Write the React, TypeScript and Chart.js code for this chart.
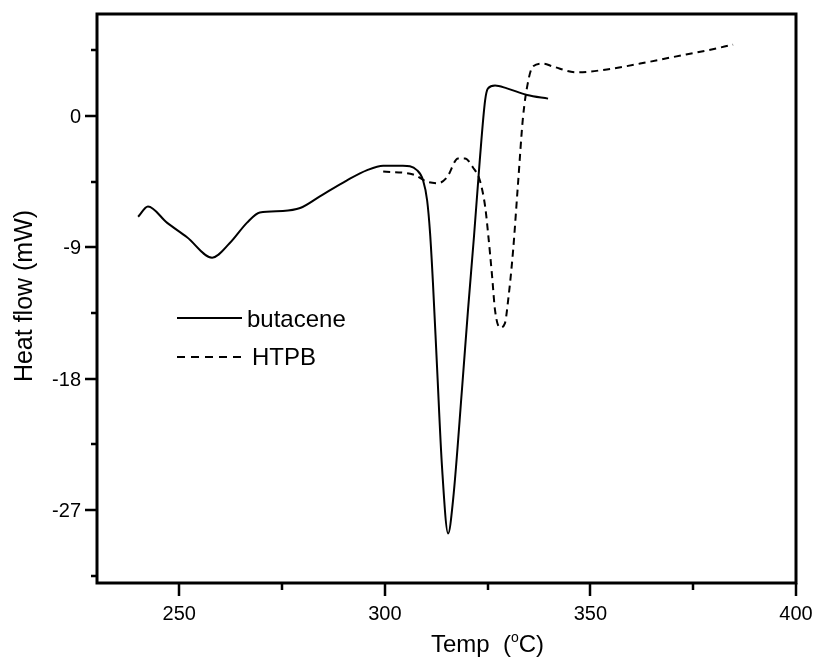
import React, { useEffect, useRef } from "react";
import { Chart, registerables } from "chart.js";

Chart.register(...registerables);

// ---- Data ----
const butaceneTemp = [240.0, 242.4, 247.0, 251.9, 258.0, 262.3, 266.5, 269.6, 275.2, 279.4, 284.2, 290.8, 295.7, 299.6, 304.4, 307.8, 309.3, 310.3, 311.0, 311.7, 312.7, 313.9, 315.4, 316.6, 318.8, 320.2, 321.7, 323.1, 324.4, 325.1, 326.8, 329.7, 334.6, 339.7];
const butaceneHeat = [-6.9, -6.2, -7.3, -8.3, -9.7, -8.7, -7.3, -6.6, -6.5, -6.3, -5.5, -4.4, -3.7, -3.4, -3.4, -3.7, -4.4, -5.8, -8.0, -11.4, -17.2, -24.0, -28.6, -26.3, -18.6, -13.4, -8.2, -3.0, 1.1, 1.9, 2.1, 1.9, 1.45, 1.2];

const htpbTemp = [299.6, 306.9, 310.3, 312.9, 315.1, 317.8, 319.5, 321.4, 323.1, 324.4, 325.1, 326.1, 326.8, 328.0, 329.2, 330.0, 331.2, 332.4, 333.6, 334.8, 336.0, 338.5, 340.9, 346.7, 354.0, 362.1, 370.1, 378.3, 384.7];
const htpbHeat = [-3.8, -4.0, -4.5, -4.6, -4.2, -2.9, -2.9, -3.5, -4.4, -6.2, -8.0, -11.0, -13.3, -14.5, -14.2, -12.6, -9.2, -4.6, -0.1, 2.3, 3.4, 3.6, 3.4, 3.0, 3.2, 3.6, 4.05, 4.5, 4.9];

const seriesLabels = ["butacene", "HTPB"];
const xMajorTicks = [250, 300, 350, 400];
const xMinorTicks = [275, 325, 375];
const yMajorTicks = [0, -9, -18, -27];
const yMinorTicks = [4.5, -4.5, -13.5, -22.5, -31.5];
const xRange = [230, 400];
const yRange = [-32, 7];
const xTitleMain = "Temp  (";
const xTitleSup = "o";
const xTitleEnd = "C)";
const yTitle = "Heat flow (mW)";

const FONT = "'Liberation Sans', Arial, Helvetica, sans-serif";

const axesPlugin = {
  id: "customAxes",
  afterDraw(chart: any) {
    const ctx: CanvasRenderingContext2D = chart.ctx;
    const { left, top, right, bottom } = chart.chartArea;
    const xs = chart.scales.x;
    const ys = chart.scales.y;
    ctx.save();
    ctx.strokeStyle = "#000";
    ctx.fillStyle = "#000";

    // frame
    ctx.lineWidth = 3;
    ctx.strokeRect(left, top, right - left, bottom - top);

    // y ticks
    ctx.lineWidth = 2.5;
    ctx.beginPath();
    yMajorTicks.forEach((v) => {
      const y = Math.round(ys.getPixelForValue(v));
      ctx.moveTo(left - 12, y);
      ctx.lineTo(left, y);
    });
    yMinorTicks.forEach((v) => {
      const y = Math.round(ys.getPixelForValue(v));
      ctx.moveTo(left - 6, y);
      ctx.lineTo(left, y);
    });
    // x ticks
    xMajorTicks.forEach((v) => {
      const x = Math.round(xs.getPixelForValue(v));
      ctx.moveTo(x, bottom);
      ctx.lineTo(x, bottom + 13);
    });
    xMinorTicks.forEach((v) => {
      const x = Math.round(xs.getPixelForValue(v));
      ctx.moveTo(x, bottom);
      ctx.lineTo(x, bottom + 7);
    });
    ctx.stroke();

    // tick labels
    ctx.font = `20px ${FONT}`;
    ctx.textBaseline = "alphabetic";
    ctx.textAlign = "right";
    yMajorTicks.forEach((v) => {
      const y = ys.getPixelForValue(v);
      ctx.fillText(String(v), left - 16, y + 7);
    });
    ctx.textAlign = "center";
    xMajorTicks.forEach((v) => {
      const x = xs.getPixelForValue(v);
      ctx.fillText(String(v), x, bottom + 37);
    });

    // x title
    ctx.textAlign = "left";
    ctx.font = `24px ${FONT}`;
    const w1 = ctx.measureText(xTitleMain).width;
    ctx.font = `14px ${FONT}`;
    const w2 = ctx.measureText(xTitleSup).width;
    ctx.font = `24px ${FONT}`;
    const w3 = ctx.measureText(xTitleEnd).width;
    const cx = (left + right) / 2 + 41;
    let tx = cx - (w1 + w2 + w3) / 2;
    const tb = bottom + 69;
    ctx.fillText(xTitleMain, tx, tb);
    tx += w1;
    ctx.font = `14px ${FONT}`;
    ctx.fillText(xTitleSup, tx, tb - 10);
    tx += w2;
    ctx.font = `24px ${FONT}`;
    ctx.fillText(xTitleEnd, tx, tb);

    // y title
    ctx.save();
    ctx.font = `25px ${FONT}`;
    ctx.translate(32, 296);
    ctx.rotate(-Math.PI / 2);
    ctx.textAlign = "center";
    ctx.fillText(yTitle, 0, 0);
    ctx.restore();

    // legend
    ctx.lineWidth = 2;
    ctx.beginPath();
    ctx.moveTo(177, 318);
    ctx.lineTo(242, 318);
    ctx.stroke();
    ctx.setLineDash([8, 6]);
    ctx.beginPath();
    ctx.moveTo(177, 357);
    ctx.lineTo(242, 357);
    ctx.stroke();
    ctx.setLineDash([]);
    ctx.font = `24px ${FONT}`;
    ctx.textAlign = "left";
    ctx.fillText(seriesLabels[0], 247, 327);
    ctx.fillText(seriesLabels[1], 252, 365);

    ctx.restore();
  },
};

export default function App() {
  const canvasRef = useRef<HTMLCanvasElement | null>(null);

  useEffect(() => {
    if (!canvasRef.current) return;
    const chart = new Chart(canvasRef.current, {
      type: "line",
      data: {
        datasets: [
          {
            label: seriesLabels[0],
            data: butaceneTemp.map((x, i) => ({ x, y: butaceneHeat[i] })),
            borderColor: "#000",
            borderWidth: 2,
            pointRadius: 0,
            fill: false,
            cubicInterpolationMode: "monotone",
          },
          {
            label: seriesLabels[1],
            data: htpbTemp.map((x, i) => ({ x, y: htpbHeat[i] })),
            borderColor: "#000",
            borderWidth: 2,
            borderDash: [7, 5],
            pointRadius: 0,
            fill: false,
            cubicInterpolationMode: "monotone",
          },
        ],
      },
      options: {
        animation: false,
        responsive: false,
        maintainAspectRatio: false,
        layout: { padding: { left: 97, top: 14, right: 20, bottom: 84 } },
        scales: {
          x: { type: "linear", min: xRange[0], max: xRange[1], display: false },
          y: { type: "linear", min: yRange[0], max: yRange[1], display: false },
        },
        plugins: {
          legend: { display: false },
          tooltip: { enabled: false },
        },
      },
      plugins: [axesPlugin],
    } as any);
    return () => chart.destroy();
  }, []);

  return (
    <div style={{ position: "fixed", left: 0, top: 0, width: 816, height: 667, background: "#fff" }}>
      <canvas ref={canvasRef} width={816} height={667} style={{ width: 816, height: 667 }} />
    </div>
  );
}
